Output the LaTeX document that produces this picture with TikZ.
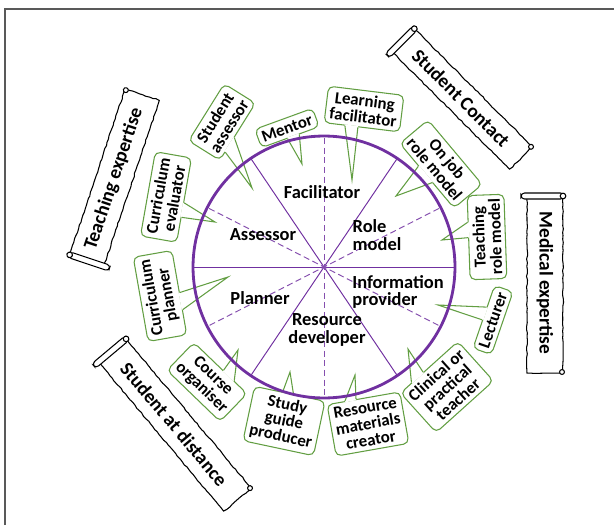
\documentclass[tikz,border=0pt]{standalone}
\usepackage{fontspec}
\setmainfont{Carlito}
\usetikzlibrary{calc,decorations.pathmorphing}

\definecolor{wheelpurple}{RGB}{112,48,160}
\definecolor{bubblegreen}{RGB}{98,158,66}

% speech bubble: name, centre, angle, text, side, base from, base to, tip
\newcommand{\rolebubble}[8]{%
  \node[bubble, rotate=#3] (#1) at (#2) {#4};
  \coordinate (#1-a) at ($(#1.#5 west)!#6!(#1.#5 east)$);
  \coordinate (#1-b) at ($(#1.#5 west)!#7!(#1.#5 east)$);
  \coordinate (#1-tip) at (#8);
  \draw[white, line width=1.4pt] (#1-a) -- (#1-b);
  \draw[bubblegreen, line width=0.6pt] (#1-a) -- (#1-tip) -- (#1-b);
}

% paper scroll: name, centre, angle, length, width, text
\newcommand{\banner}[6]{%
  \begin{scope}[shift={(#2)}, rotate=#3]
    \pgfmathsetmacro{\ha}{#4/2}
    \pgfmathsetmacro{\hb}{#5/2}
    \draw[rough] (-\ha+3,-\hb) -- (\ha,-\hb) -- (\ha,\hb) -- (-\ha+3,\hb);
    \draw[fill=white, rounded corners=2pt, line width=0.6pt] (-\ha,-\hb-6) rectangle (-\ha+6,\hb+1);
    \draw[fill=white, line width=0.6pt] (-\ha+3,\hb) circle [radius=1.6pt];
    \draw[fill=white, line width=0.6pt] (\ha-1,\hb-1) circle [radius=1.4pt];
  \end{scope}
  \node[bannertext, rotate=#3] (#1) at (#2) {#6};
}

\begin{document}
\begin{tikzpicture}[x=0.02cm, y=0.02cm,
  bubble/.style={draw=bubblegreen, line width=0.6pt, rounded corners=3pt, fill=white,
    align=center, inner sep=2.4pt, font=\bfseries\fontsize{9.6}{9.3}\selectfont},
  sector/.style={align=center, font=\bfseries\fontsize{10.5}{10}\selectfont},
  bannertext/.style={font=\bfseries\fontsize{11}{11}\selectfont},
  rough/.style={line width=0.6pt, decorate,
    decoration={random steps, segment length=2pt, amplitude=0.3pt}},
  spoke/.style={wheelpurple, line width=0.55pt},
  halfspoke/.style={wheelpurple!85, line width=0.55pt, dash pattern=on 3.5pt off 2pt}]

\pgfmathsetseed{3}
\useasboundingbox (0,0) rectangle (614,525);
\draw[black!65, line width=0.7pt] (5,0) -- (5,516) -- (614,516);

% scrolls
\banner{contact}{461,427}{-45}{170}{32}{Student Contact}
\banner{medical}{545,242}{-90}{180}{36}{Medical expertise}
\banner{teaching}{114,346}{71.5}{178}{36}{Teaching expertise}
\banner{distance}{174,101}{-50}{198}{36}{Student at distance}

% roles round the wheel
\rolebubble{mentor}{287,397}{20}{Mentor}{south}{0.45}{0.65}{302,361}
\rolebubble{learning}{364,416}{-7}{Learning\\facilitator}{south}{0.28}{0.45}{352,345}
\rolebubble{studassessor}{222,403}{58}{Student\\assessor}{south}{0.15}{0.4}{252,337}
\rolebubble{curreval}{166,328}{80}{Curriculum\\evaluator}{south}{0.3}{0.47}{215,303}
\rolebubble{currplanner}{160,229}{100}{Curriculum\\planner}{south}{0.3}{0.5}{228,248}
\rolebubble{organiser}{207,143}{-44}{Course\\organiser}{north}{0.55}{0.75}{238,175}
\rolebubble{guide}{284,104}{-12}{Study\\guide\\producer}{north}{0.4}{0.55}{290,153}
\rolebubble{materials}{368,101}{10}{Resource\\materials\\creator}{north}{0.25}{0.4}{355,150}
\rolebubble{clinical}{447,138}{42}{Clinical or\\practical\\teacher}{north}{0.2}{0.4}{408,176}
\rolebubble{lecturer}{493,205}{71}{Lecturer}{north}{0.45}{0.65}{438,220}
\rolebubble{teachrole}{487,288}{92}{Teaching\\role model}{north}{0.5}{0.68}{442,285}
\rolebubble{onjob}{441,361}{-50}{On job\\role model}{south}{0.35}{0.6}{396,329}

% the wheel
\coordinate (hub) at (324,258);
\foreach \ang in {0,56,124}
  \draw[spoke] ($(hub)+(\ang:130)$) -- ($(hub)+(\ang+180:130)$);
\foreach \ang in {27,90,153}
  \draw[halfspoke] ($(hub)+(\ang:129)$) -- ($(hub)+(\ang+180:129)$);
\draw[wheelpurple, line width=1.6pt] (hub) circle [radius=2.62cm];

\node[sector] (facilitator) at (322,333) {Facilitator};
\node[sector] (assessor) at (263,290) {Assessor};
\node[sector, align=left] (rolemodel) at (377,290) {Role\\model};
\node[sector, align=left] (informer) at (398,233) {Information\\provider};
\node[sector] (planner) at (260,227) {Planner};
\node[sector] (resource) at (327,195) {Resource\\developer};
\end{tikzpicture}
\end{document}
